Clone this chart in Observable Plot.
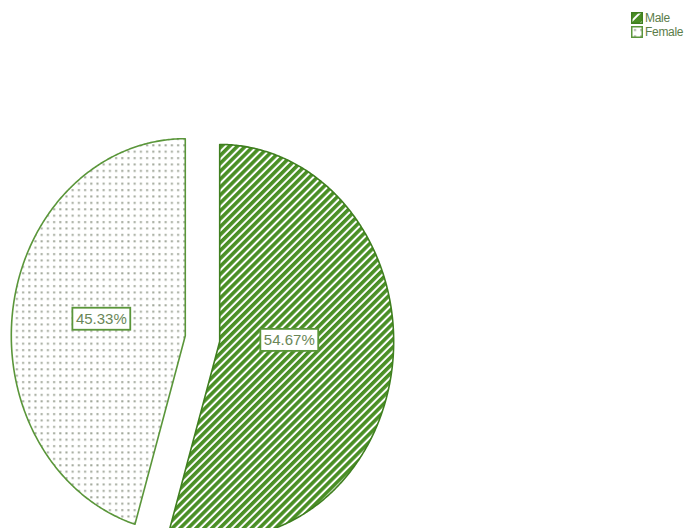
<!DOCTYPE html>
<html><head><meta charset="utf-8">
<script src="https://cdn.jsdelivr.net/npm/d3@7"></script>
<script src="https://cdn.jsdelivr.net/npm/@observablehq/plot@0.6"></script>
<style>
body{margin:0;background:#fff;}
#wrap{position:relative;width:698px;height:528px;overflow:hidden;background:#fff;}
#legend{position:absolute;left:631px;top:11px;font-family:"Liberation Sans",Arial,sans-serif;font-size:12px;letter-spacing:-0.3px;color:#5b7d49;line-height:14px;}
#legend div{display:flex;align-items:center;height:14px;}
#legend svg{margin-right:2px;}
</style></head><body>
<svg width="0" height="0" style="position:absolute">
  <defs>
    <pattern id="maleHatch" patternUnits="userSpaceOnUse" width="5.6" height="5.6" patternTransform="rotate(45)">
      <rect width="5.6" height="5.6" fill="#ffffff"/>
      <rect width="3.6" height="5.6" fill="#4a8f25"/>
    </pattern>
    <pattern id="femaleDots" patternUnits="userSpaceOnUse" width="6.2" height="6.4" x="1" y="1">
      <rect width="6.2" height="6.4" fill="#ffffff"/>
      <rect x="2" y="2" width="2" height="2" fill="#9ea597"/>
    </pattern>
    <pattern id="maleSwatch" patternUnits="userSpaceOnUse" width="8" height="8" patternTransform="rotate(45)">
      <rect width="8" height="8" fill="#ffffff"/>
      <rect width="6" height="8" fill="#4a8f25"/>
    </pattern>
  </defs>
</svg>
<div id="wrap">
  <div id="legend"></div>
</div>
<script>
// ---- data ----
const categories = ["Male", "Female"];
const shares = [54.67, 45.33];
const labels = ["54.67%", "45.33%"];
const fills = ["url(#maleHatch)", "url(#femaleDots)"];
const strokes = ["#3f7f1f", "#5a963a"];
const swatchFills = ["url(#maleSwatch)", "url(#femaleDots)"];
// label placement (radius from slice centre, angle clockwise from 12 o'clock)
const labelDist = [0.40, 0.49];
const labelAngleDeg = [89, 280];

// ---- geometry from data ----
const explode = 0.1;
const arcs = d3.pie().sort(null).startAngle(0).endAngle(2 * Math.PI)(shares);
const sliceRows = [];
const labelRows = [];
arcs.forEach((a, i) => {
  const mid = (a.startAngle + a.endAngle) / 2;
  const cx = explode * Math.sin(mid), cy = explode * Math.cos(mid);
  const pts = [{u: cx, v: cy}];
  const n = Math.max(2, Math.ceil((a.endAngle - a.startAngle) / (Math.PI / 360)));
  for (let k = 0; k <= n; k++) {
    const t = a.startAngle + (a.endAngle - a.startAngle) * k / n;
    pts.push({u: cx + Math.sin(t), v: cy + Math.cos(t)});
  }
  pts.push({u: cx, v: cy});
  pts.forEach(p => sliceRows.push({slice: categories[i], ...p}));
  const la = labelAngleDeg[i] * Math.PI / 180;
  labelRows.push({slice: categories[i], label: labels[i], u: cx + labelDist[i] * Math.sin(la), v: cy + labelDist[i] * Math.cos(la)});
});

const marks = categories.map((c, i) =>
  Plot.line(sliceRows.filter(d => d.slice === c), {
    x: "u", y: "v", fill: fills[i], stroke: strokes[i], strokeWidth: 1.6, curve: "linear"
  })
);
marks.push(Plot.text(labelRows, {
  x: "u", y: "v", text: "label", fill: "#6a8758", fontSize: 15,
  fontFamily: "'Liberation Sans',Arial,sans-serif"
}));

const chart = Plot.plot({
  width: 698, height: 528,
  margin: 0,
  x: {domain: [-1.161, 2.851], axis: null},
  y: {domain: [-0.964, 1.716], axis: null},
  marks
});
const wrap = document.getElementById("wrap");
wrap.insertBefore(chart, wrap.firstChild);

// label boxes
chart.querySelectorAll('g[aria-label="text"] text').forEach(t => {
  const b = t.getBBox();
  const r = document.createElementNS("http://www.w3.org/2000/svg", "rect");
  r.setAttribute("x", b.x - 3.5); r.setAttribute("y", b.y - 2);
  r.setAttribute("width", b.width + 7); r.setAttribute("height", b.height + 5);
  r.setAttribute("fill", "#ffffff"); r.setAttribute("stroke", "#5a963a"); r.setAttribute("stroke-width", 1.8);
  const tr = t.getAttribute("transform");
  if (tr) r.setAttribute("transform", tr);
  t.parentNode.insertBefore(r, t);
});

// legend
const legend = document.getElementById("legend");
categories.forEach((c, i) => {
  const row = document.createElement("div");
  row.innerHTML = `<svg width="12" height="12"><rect x="0.75" y="0.75" width="10.5" height="10.5" fill="${swatchFills[i]}" stroke="${strokes[i]}" stroke-width="1.5"/></svg><span>${c}</span>`;
  legend.appendChild(row);
});
</script>
</body></html>
